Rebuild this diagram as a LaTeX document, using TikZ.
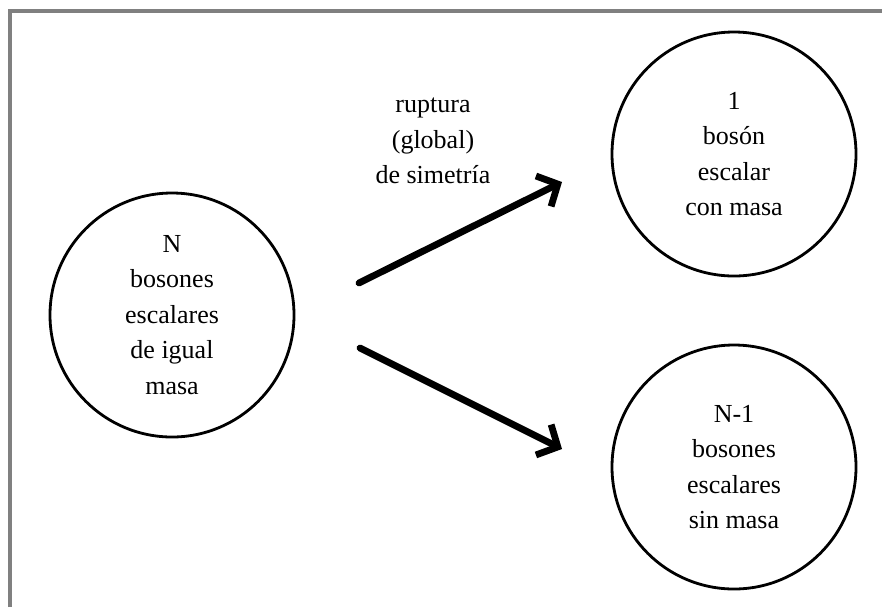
\documentclass[tikz,border=0pt]{standalone}
\usepackage{fontspec}
\setmainfont{Liberation Serif}
\usetikzlibrary{arrows.meta}
\begin{document}
\begin{tikzpicture}[x=0.5pt,y=-0.5pt]
        \tikzstyle{bola}=[circle, draw, line width=1.4pt, minimum size=122pt, inner sep=0pt, align=center, font=\fontsize{13}{17.8}\selectfont]
        \tikzstyle{flecha}=[line width=3.4pt, line cap=round, -{Straight Barb[length=8pt,width=17pt]}]
        \useasboundingbox (0,0) rectangle (882,607);
        \draw[gray, line width=2pt] (10,607) -- (10,11) -- (882,11);
        \node[bola] (a) at (172,315) {N\\bosones\\escalares\\de igual\\masa};
        \node[bola] (b) at (734,154) {1\\bosón\\escalar\\con masa};
        \node[bola] (c) at (734,467) {N-1\\bosones\\escalares\\sin masa};
        \node[align=center, font=\fontsize{13}{17.8}\selectfont] (r) at (433,141) {ruptura\\(global)\\de simetría};
        \coordinate (a1) at (359,283);
        \coordinate (a2) at (360,348);
        \coordinate (b1) at (562,182);
        \coordinate (c1) at (562,449);
        \draw[flecha] (a1) -- (b1);
        \draw[flecha] (a2) -- (c1);
\end{tikzpicture}
\end{document}
